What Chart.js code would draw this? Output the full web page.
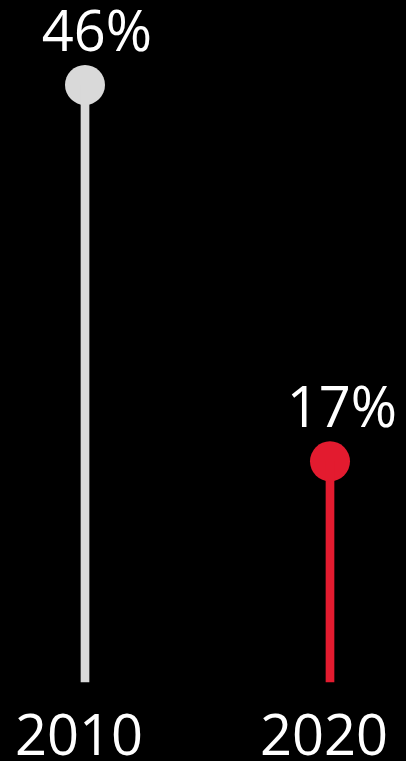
<!DOCTYPE html>
<html>
<head>
<meta charset="utf-8">
<script src="https://cdn.jsdelivr.net/npm/chart.js@4.4.1/dist/chart.umd.min.js"></script>
<style>
  html, body { margin: 0; padding: 0; background: #000; }
  #wrap { width: 406px; height: 761px; position: relative; }
</style>
</head>
<body>
<div id="wrap"><canvas id="chart"></canvas></div>
<script>
// Chart data
const years = ['2010', '2020'];
const shares = [46, 17];
const colors = ['#d9d9d9', '#e31b2f'];

// Value labels above the dots
const valueLabels = {
  id: 'valueLabels',
  afterDatasetsDraw(chart) {
    const ctx = chart.ctx;
    const meta = chart.getDatasetMeta(1);
    ctx.save();
    ctx.fillStyle = '#fff';
    ctx.font = '56px "Open Sans"';
    ctx.textAlign = 'center';
    ctx.textBaseline = 'alphabetic';
    meta.data.forEach((pt, i) => {
      ctx.fillText(shares[i] + '%', pt.x + 12, pt.y - 34);
    });
    ctx.restore();
  }
};

new Chart(document.getElementById('chart'), {
  type: 'bar',
  data: {
    labels: years,
    datasets: [
      {
        type: 'bar',
        data: shares,
        backgroundColor: colors,
        barThickness: 8,
        clip: false
      },
      {
        type: 'line',
        data: shares,
        showLine: false,
        pointRadius: 20,
        pointHoverRadius: 20,
        pointBorderWidth: 0,
        pointBackgroundColor: colors,
        clip: false
      }
    ]
  },
  options: {
    responsive: true,
    maintainAspectRatio: false,
    animation: false,
    layout: { padding: { top: 33, left: 85, right: 76, bottom: 0 } },
    plugins: { legend: { display: false }, tooltip: { enabled: false } },
    scales: {
      x: {
        offset: false,
        grid: { display: false },
        border: { display: false },
        ticks: {
          color: '#fff',
          font: { family: 'Open Sans', size: 56 },
          padding: 15,
          labelOffset: -6,
          maxRotation: 0
        },
        afterFit(scale) {
          // keep the stems where they are, labels may overflow the edges
          scale.paddingLeft = 0;
          scale.paddingRight = 0;
          scale.height = 79;
        }
      },
      y: {
        display: false,
        min: 0,
        max: 50
      }
    }
  },
  plugins: [valueLabels]
});
</script>
</body>
</html>
